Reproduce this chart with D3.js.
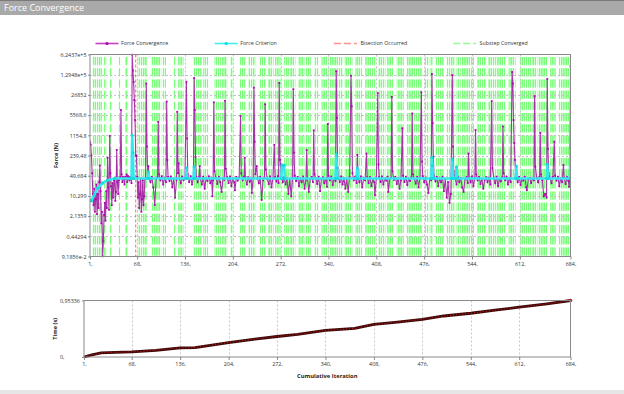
<!DOCTYPE html>
<html>
<head>
<meta charset="utf-8">
<script src="https://cdn.jsdelivr.net/npm/d3@7"></script>
<style>
body { margin: 0; background: #fff; }
svg { display: block; font-family: "Open Sans", "Noto Sans", sans-serif; }
</style>
</head>
<body>
<div id="chart"></div>
<script>
// d3: ANSYS style force convergence + time history
// ================================================

var xTicks = [1, 68, 136, 204, 272, 340, 408, 476, 544, 612, 684];
var xTickLabels = ["1,", "68,", "136,", "204,", "272,", "340,", "408,", "476,", "544,", "612,", "684,"];

var yTicks = [0.091856, 0.44294, 2.1359, 10.299, 49.684, 239.48, 1154.8, 5568.6, 26852, 129480, 624370];
var yTickLabels = ["9,1856e-2", "0,44294", "2,1359", "10,299", "49,684", "239,48", "1154,8", "5568,6", "26852", "1,2948e+5", "6,2437e+5"];

var timeTicks = [0, 0.95336];
var timeTickLabels = ["0,", "0,95336"];

var seriesNames = ["Force Convergence", "Force Criterion", "Bisection Occurred", "Substep Converged"];

// force convergence [iteration, N]
var forceConv = [
  [1,700],[2,560],[3,240],[4,60],[5,12],[6,5],[7,18],[8,3],[9,8],[10,25],[11,2.5],[12,12],[13,4],[14,30],[15,110],[16,15],[17,1.2],[18,3],[19,0.092],[20,0.3],
  [21,2.3],[22,6],[23,1.5],[24,15],[25,4],[26,200],[27,20],[28,3.5],[29,1100],[30,60],[31,22],[32,5],[33,28],[34,9],[35,35],[36,40],[37,7],[38,14],[39,370],[40,30],
  [41,12],[42,35],[43,40],[44,45],[45,8300],[46,55],[47,30],[48,45],[49,38],[50,25],[51,45],[52,40],[53,55],[54,30],[55,48],[56,42],[57,35],[58,45],[59,40],[60,28],
  [61,6.2e5],[62,1.8e5],[63,7.3e4],[64,1.8e4],[65,3800],[66,250],[67,230],[68,45],[69,9],[70,30],[71,4],[72,12],[73,40],[74,3],[75,8],[76,35],[77,5],[78,10],[79,38],[80,42],
  [81,6.5e4],[82,480],[83,60],[84,105],[85,40],[87,30],[89,45],[91,20],[93,5],[95,38],[97,44],
  [98,3300],[99,55],[101,35],[103,48],[105,25],[107,42],[109,30],
  [110,1.6e4],[111,170],[112,45],[114,33],[116,47],[118,20],[120,40],[122,9],[124,36],
  [125,7200],[126,60],[127,130],[128,40],[130,28],[132,46],[134,35],[136,42],
  [138,7.5e4],[139,900],[140,55],[142,30],[144,48],[146,25],[148,40],
  [149,1.0e5],[150,8300],[151,215],[152,45],[154,30],[156,44],[157,105],[158,38],[160,25],[162,46],[164,18],[166,40],[168,33],[170,47],[172,28],[174,40],[175,10],[176,35],
  [177,1.5e4],[178,70],[180,42],[182,26],[184,46],[186,30],[188,14],[190,40],[192,36],
  [193,1.7e4],[194,85],[196,44],[198,28],[200,47],[202,22],[204,40],[206,30],[207,16],[209,45],[211,34],[213,41],
  [215,5200],[216,60],[218,35],[220,46],[221,200],[222,40],[224,25],[226,44],[228,31],[230,38],[231,13],[233,42],
  [234,4.7e4],[235,700],[236,55],[238,105],[239,40],[241,28],[243,46],[245,7.5],[247,35],[249,42],
  [250,1.3e4],[251,80],[253,38],[255,26],[257,47],[259,20],[261,40],
  [263,550],[264,45],[266,32],[268,48],[269,28],
  [270,6.8e4],[271,170],[272,115],[273,45],[275,30],[277,44],[279,25],[281,40],[283,12],[285,38],[287,10],[289,42],
  [290,4.2e4],[291,300],[292,50],[294,33],[296,45],[298,22],[300,40],[302,30],[304,47],[306,18],[308,36],
  [309,370],[310,42],[312,14],[314,38],[316,45],[318,30],
  [319,1700],[320,55],[322,40],[324,26],[326,46],[328,15],[330,38],[332,44],[334,28],[336,40],[338,21],
  [339,2800],[340,50],[342,35],[344,46],[346,24],[348,40],[350,33],
  [351,1.7e5],[352,4500],[353,90],[354,45],[356,30],[358,47],[360,25],[362,41],[364,18],[366,38],[368,14],[370,44],
  [372,1.2e5],[373,1.1e4],[374,60],[376,35],[378,46],[380,28],
  [381,250],[382,42],[384,30],[386,47],[388,20],[390,40],[392,35],
  [394,280],[395,44],[397,28],[399,45],[401,22],[403,38],[405,30],[406,11],[408,40],
  [410,3.1e4],[411,120],[412,45],[414,30],[416,47],[418,25],[420,40],[422,34],[424,46],[425,14],[427,38],[429,42],
  [430,2.3e4],[431,70],[433,36],[435,45],[437,26],[439,40],[441,18],[443,35],
  [445,2000],[446,50],[448,30],[450,46],[452,24],[454,40],[456,33],[458,44],
  [459,6300],[460,55],[462,38],[464,27],[466,45],[468,20],[470,40],
  [472,3.3e4],[473,150],[474,48],[476,30],[478,42],[480,25],[482,13],[484,40],[486,35],
  [487,1.37e5],[488,3000],[489,215],[490,50],[492,32],[494,45],[496,22],[498,40],[500,30],[502,46],[504,15],[506,38],[508,9],[510,30],[512,6],[514,12],
  [516,1.26e5],[517,480],[518,70],[520,40],[522,25],[524,46],[526,30],[528,42],[530,20],[532,14],[534,38],[536,44],[538,28],
  [539,280],[540,42],[542,30],[544,47],[546,22],[548,40],
  [549,1750],[550,55],[552,35],[554,45],[556,26],[558,40],[560,18],[562,36],[564,44],[566,30],[568,42],[570,25],
  [572,1.65e4],[573,90],[575,40],[577,28],[579,46],[581,22],[583,38],[585,32],[587,44],
  [588,2300],[589,60],[591,35],[593,46],[595,25],[597,40],[599,30],
  [601,1.6e5],[602,6.5e4],[603,3800],[604,634],[605,170],[606,55],[607,40],[609,30],[611,45],[613,24],[615,40],[617,34],[619,46],[621,20],[622,16],[624,38],[626,42],[628,28],[630,40],[632,35],
  [633,2.46e4],[634,100],[636,42],[638,30],[640,46],
  [641,1400],[642,55],[644,35],[646,10],[648,12],[650,9],
  [651,9.3e4],[652,400],[653,60],[655,40],[657,28],[659,45],
  [661,700],[662,50],[664,34],[666,46],[668,22],[670,40],[672,30],
  [674,115],[675,42],[677,26],[679,44],[681,33],[682,21],[683,38],
  [684,2.5e5]
];

// force criterion [iteration, N]
var forceCrit = [
  [1,7.5],[3,7],[7,11],[12,19],[19,28],[26,35],[36,40],[60,40],[61,1170],[62,300],[63,40],
  [83,40],[84,67],[85,40],[137,40],[138,90],[139,40],[148,40],[149,100],[150,40],
  [273,40],[274,113],[277,113],[278,40],[350,40],[351,268],[352,90],[353,40],
  [380,40],[381,90],[382,40],[486,40],[487,210],[488,110],[489,40],
  [515,40],[516,180],[517,40],[521,40],[522,100],[523,40],[606,40],[607,105],[608,40],
  [650,40],[651,120],[652,40],[683,40],[684,440]
];

// iterations where a bisection happened
var bisections = [66];

// runs of iterations [first, last] that converged a substep
var substepRuns = [
  [5,17],[21,23],[29,31],[41,43],[51,54],[69,81],[88,100],[103,108],[119,122],[126,133],
  [148,159],[162,168],[178,186],[188,195],[200,203],[214,221],[226,235],[242,250],[254,261],[264,271],
  [277,283],[285,292],[297,304],[306,314],[320,325],[330,337],[340,359],[363,373],[378,387],[392,406],
  [411,420],[423,432],[437,446],[451,472],[477,482],[484,487],[492,503],[508,518],[522,527],[529,546],
  [551,563],[567,577],[579,591],[596,605],[612,627],[629,636],[638,650],[655,662],[667,684]
];

// time history [iteration, s]
var timeData = [
  [1,0],[12,0.035],[25,0.068],[45,0.078],[68,0.085],[102,0.113],[136,0.155],[157,0.159],[204,0.244],
  [241,0.300],[272,0.346],[301,0.380],[340,0.448],[381,0.482],[408,0.550],[441,0.590],[476,0.636],
  [506,0.692],[544,0.738],[581,0.794],[612,0.840],[651,0.897],[684,0.95336]
];

var width = 624,
    height = 394;

var svg = d3.select("#chart").append("svg")
    .attr("width", width)
    .attr("height", height);

// title bar
svg.append("rect").attr("x", 0).attr("y", 0).attr("width", width).attr("height", 15).attr("fill", "#a9a9a9");
svg.append("rect").attr("x", 0).attr("y", 0).attr("width", width).attr("height", 1).attr("fill", "#7a7a7a");
svg.append("text")
    .attr("x", 4).attr("y", 11)
    .attr("fill", "#fff")
    .attr("font-size", "9px")
    .text("Force Convergence");

// ---- top chart ----
var m1 = {left: 90, right: 570.5, top: 54.5, bottom: 256.5};

var x = d3.scaleLinear().domain([1, 684]).range([m1.left, m1.right]);
var y = d3.scaleLog().domain([yTicks[0], yTicks[yTicks.length - 1]]).range([m1.bottom, m1.top]);

var defs = svg.append("defs");
defs.append("clipPath").attr("id", "clip1")
  .append("rect")
    .attr("x", m1.left).attr("y", m1.top - 1)
    .attr("width", m1.right - m1.left).attr("height", m1.bottom - m1.top + 2);

// substep lines: thin dashed verticals, one every few iterations
var pat = defs.append("pattern")
    .attr("id", "subPat")
    .attr("patternUnits", "userSpaceOnUse")
    .attr("x", 0).attr("y", 1)
    .attr("width", 2.2).attr("height", 11.2);
pat.append("rect")
    .attr("x", 0).attr("y", 0)
    .attr("width", 1.5).attr("height", 8.2)
    .attr("fill", "#78ff78");

var plot = svg.append("g").attr("clip-path", "url(#clip1)");

// substep converged - dashed green bands
plot.selectAll("rect.substep")
    .data(substepRuns)
    .enter().append("rect")
    .attr("class", "substep")
    .attr("x", function(d) { return x(d[0]); })
    .attr("width", function(d) { return x(d[1]) - x(d[0]) + 0.7; })
    .attr("y", m1.top)
    .attr("height", m1.bottom - m1.top)
    .attr("fill", "url(#subPat)");

// grid
plot.selectAll("line.hgrid")
    .data(yTicks.slice(1, -1))
    .enter().append("line")
    .attr("x1", m1.left).attr("x2", m1.right)
    .attr("y1", function(d) { return Math.round(y(d)) + 0.5; })
    .attr("y2", function(d) { return Math.round(y(d)) + 0.5; })
    .attr("stroke", "#c4c4c4")
    .attr("stroke-dasharray", "2,2");

plot.selectAll("line.vgrid")
    .data(xTicks.slice(1, -1))
    .enter().append("line")
    .attr("x1", function(d) { return Math.round(x(d)) + 0.5; })
    .attr("x2", function(d) { return Math.round(x(d)) + 0.5; })
    .attr("y1", m1.top).attr("y2", m1.bottom)
    .attr("stroke", "#c4c4c4")
    .attr("stroke-dasharray", "2,2");

// bisection
plot.selectAll("line.bisect")
    .data(bisections)
    .enter().append("line")
    .attr("x1", function(d) { return x(d); })
    .attr("x2", function(d) { return x(d); })
    .attr("y1", m1.top).attr("y2", m1.bottom)
    .attr("stroke", "#ff6a6a")
    .attr("stroke-dasharray", "3,2");

var line = d3.line()
    .x(function(d) { return x(d[0]); })
    .y(function(d) { return y(d[1]); });

// force convergence
plot.append("path")
    .datum(forceConv)
    .attr("fill", "none")
    .attr("stroke", "#a834a8")
    .attr("stroke-width", 1.1)
    .attr("d", line);

plot.selectAll("rect.fc")
    .data(forceConv)
    .enter().append("rect")
    .attr("x", function(d) { return x(d[0]) - 0.9; })
    .attr("y", function(d) { return y(d[1]) - 0.9; })
    .attr("width", 1.8).attr("height", 1.8)
    .attr("fill", "#b400b4");

// force criterion
plot.append("path")
    .datum(forceCrit)
    .attr("fill", "none")
    .attr("stroke", "#35e8ec")
    .attr("stroke-width", 2.6)
    .attr("d", line);

plot.selectAll("circle.crit")
    .data(forceCrit)
    .enter().append("circle")
    .attr("cx", function(d) { return x(d[0]); })
    .attr("cy", function(d) { return y(d[1]); })
    .attr("r", 1.5)
    .attr("fill", "#10dde0");

// frame + axes
svg.append("rect")
    .attr("x", m1.left).attr("y", m1.top)
    .attr("width", m1.right - m1.left).attr("height", m1.bottom - m1.top)
    .attr("fill", "none").attr("stroke", "#8a8a8a");

var yAxis = svg.append("g")
    .attr("transform", "translate(" + m1.left + ",0)")
    .call(d3.axisLeft(y).tickValues(yTicks).tickFormat(function(d, i) { return yTickLabels[i]; }).tickSize(2).tickPadding(1.5));

var xAxis = svg.append("g")
    .attr("transform", "translate(0," + m1.bottom + ")")
    .call(d3.axisBottom(x).tickValues(xTicks).tickFormat(function(d, i) { return xTickLabels[i]; }).tickSize(3).tickPadding(2.5));

svg.append("text")
    .attr("transform", "translate(58," + (m1.top + m1.bottom) / 2 + ") rotate(-90)")
    .attr("text-anchor", "middle")
    .attr("font-size", "5.6px").attr("font-weight", "bold").attr("fill", "#222")
    .text("Force (N)");

// legend
var legendColors = ["#c040c0", "#40f0f0", "#ff9090", "#90ff90"];
var legend = svg.selectAll("g.legend")
    .data(seriesNames)
    .enter().append("g")
    .attr("transform", function(d, i) { return "translate(" + (95.5 + i * 119.2) + ",43.5)"; });

legend.append("line")
    .attr("x1", 0).attr("x2", 23)
    .attr("stroke", function(d, i) { return legendColors[i]; })
    .attr("stroke-width", 1.6)
    .attr("stroke-dasharray", function(d, i) { return i < 2 ? null : "7,3"; });

legend.filter(function(d, i) { return i < 2; })
  .append("circle")
    .attr("cx", 11.5).attr("r", 1.6)
    .attr("fill", function(d, i) { return i == 0 ? "#b000b0" : "#00e0e6"; });

legend.append("text")
    .attr("x", function(d, i) { return i < 2 ? 25.5 : 26.5; })
    .attr("dy", "0.35em")
    .attr("font-size", "5.3px").attr("fill", "#333")
    .text(function(d) { return d; });

// ---- bottom chart ----
var m2 = {left: 84, right: 570.5, top: 300.5, bottom: 357};

var x2 = d3.scaleLinear().domain([1, 684]).range([m2.left, m2.right]);
var y2 = d3.scaleLinear().domain([0, timeTicks[1]]).range([m2.bottom, m2.top]);

svg.selectAll("line.vgrid2")
    .data(xTicks.slice(1, -1))
    .enter().append("line")
    .attr("x1", function(d) { return Math.round(x2(d)) + 0.5; })
    .attr("x2", function(d) { return Math.round(x2(d)) + 0.5; })
    .attr("y1", m2.top).attr("y2", m2.bottom)
    .attr("stroke", "#c8c8c8")
    .attr("stroke-dasharray", "2,2");

var line2 = d3.line()
    .x(function(d) { return x2(d[0]); })
    .y(function(d) { return y2(d[1]); });

svg.append("path")
    .datum(timeData)
    .attr("fill", "none")
    .attr("stroke", "#3a0808")
    .attr("stroke-width", 2.8)
    .attr("d", line2);

svg.append("path")
    .datum(timeData)
    .attr("fill", "none")
    .attr("stroke", "#c81414")
    .attr("stroke-width", 1.2)
    .attr("stroke-dasharray", "1,2")
    .attr("d", line2);

svg.selectAll("circle.time")
    .data(timeData.slice(-1))
    .enter().append("circle")
    .attr("cx", function(d) { return x2(d[0]); })
    .attr("cy", function(d) { return y2(d[1]); })
    .attr("r", 1.8)
    .attr("fill", "#e01010");

svg.append("rect")
    .attr("x", m2.left).attr("y", m2.top)
    .attr("width", m2.right - m2.left).attr("height", m2.bottom - m2.top)
    .attr("fill", "none").attr("stroke", "#8a8a8a");

var y2Axis = svg.append("g")
    .attr("transform", "translate(" + m2.left + ",0)")
    .call(d3.axisLeft(y2).tickValues(timeTicks).tickFormat(function(d, i) { return timeTickLabels[i]; }).tickSize(2));
y2Axis.selectAll("text").attr("x", 60 - m2.left).attr("text-anchor", "start");

var x2Axis = svg.append("g")
    .attr("transform", "translate(0," + m2.bottom + ")")
    .call(d3.axisBottom(x2).tickValues(xTicks).tickFormat(function(d, i) { return xTickLabels[i]; }).tickSize(3).tickPadding(2.5));

svg.append("text")
    .attr("transform", "translate(57," + (m2.top + m2.bottom) / 2 + ") rotate(-90)")
    .attr("text-anchor", "middle")
    .attr("font-size", "5.6px").attr("font-weight", "bold").attr("fill", "#222")
    .text("Time (s)");

svg.append("text")
    .attr("x", (m2.left + m2.right) / 2).attr("y", 378)
    .attr("text-anchor", "middle")
    .attr("font-size", "5.8px").attr("font-weight", "bold").attr("fill", "#222")
    .text("Cumulative Iteration");

// axis styling
svg.selectAll(".tick text").attr("font-size", "5.4px").attr("fill", "#333").attr("font-family", "\"Open Sans\", sans-serif");
svg.selectAll(".tick line").attr("stroke", "#8a8a8a");
svg.selectAll(".domain").remove();

// bottom edge of the panel
svg.append("rect").attr("x", 0).attr("y", 390).attr("width", width).attr("height", 4).attr("fill", "#e6e6e6");
</script>
</body>
</html>
